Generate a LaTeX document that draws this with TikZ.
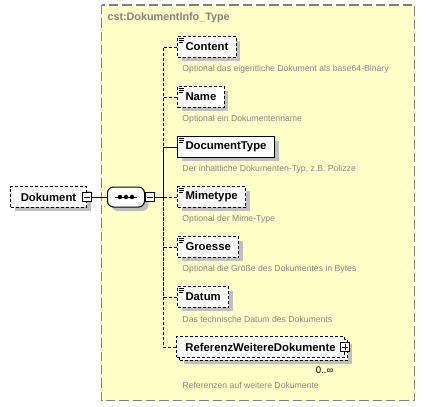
\documentclass[tikz,border=0pt]{standalone}
\usepackage{fontspec}
\setmainfont{Liberation Sans}
\usetikzlibrary{shadows}
\definecolor{typefill}{RGB}{255,255,200}
\definecolor{typeline}{RGB}{128,128,128}
\definecolor{desctext}{RGB}{135,135,135}
\begin{document}
\begin{tikzpicture}[
  x=0.75pt, y=-0.75pt, line width=0.75pt,
  elem/.style={draw, fill=white, anchor=west, minimum height=15.5pt, inner xsep=6pt, inner ysep=0pt, font=\bfseries\fontsize{8.5}{10}\selectfont},
  opt/.style={dash pattern=on 2.25pt off 1.5pt},
  shade/.style={drop shadow={shadow xshift=3pt, shadow yshift=-3pt, fill=black!25, opacity=1}},
  desc/.style={anchor=west, inner sep=0pt, text=desctext, font=\fontsize{6.5}{8}\selectfont},
  pmbox/.style={draw, solid, fill=white, minimum size=7pt, inner sep=0pt},
  minus/.style={path picture={\draw ([xshift=-2.25pt]path picture bounding box.center) -- ([xshift=2.25pt]path picture bounding box.center);}},
  plus/.style={path picture={\draw ([xshift=-2.25pt]path picture bounding box.center) -- ([xshift=2.25pt]path picture bounding box.center)
    ([yshift=-2.25pt]path picture bounding box.center) -- ([yshift=2.25pt]path picture bounding box.center);}}
]
\useasboundingbox (0,0) rectangle (426,407);
% complex type
\draw[typeline, fill=typefill, line width=1.2pt, dash pattern=on 7pt off 3pt] (101.5,5) rectangle (414.5,400.5);
\node[anchor=west, inner sep=0pt, text=typeline, font=\bfseries\fontsize{8.1}{10}\selectfont] (typename) at (107,18) {cst:DokumentInfo\_Type};

% root element and sequence
\node[elem, opt, shade, minimum width=57pt] (dokument) at (10,197) {Dokument};
\node[pmbox, minus] (dokminus) at (dokument.east) {};
\node[draw, fill=white, shade, rounded corners=4.5pt, anchor=west, minimum width=27.75pt, minimum height=15pt, inner sep=0pt] (seq) at (107,197) {};
\draw ([shift={(-11,0)}]seq.center) -- ([shift={(11,0)}]seq.center);
\foreach \d in {-6,0,6}
  \fill ([shift={(\d,0)}]seq.center) circle (1.7pt);
\node[pmbox, minus, anchor=west] (seqminus) at (seq.east) {};
\draw (dokminus.east) -- (seq.west);
\coordinate (trunk) at (163,197);
\draw (seqminus.east) -- (trunk);

% child elements
\node[elem, opt, shade] (content) at (177,47) {Content};
\node[elem, opt, shade] (name) at (177,97) {Name};
\node[elem, shade] (doctype) at (177,147) {DocumentType};
\node[elem, opt, shade] (mime) at (177,197) {Mimetype};
\node[elem, opt, shade] (groesse) at (177,247) {Groesse};
\node[elem, opt, shade] (datum) at (177,297) {Datum};
\node[elem, opt, shade, minimum width=126pt] (refback) at (179,350) {};
\node[elem, opt, minimum width=126pt] (referenz) at (176,347) {ReferenzWeitereDokumente};
\node[pmbox, plus] (refplus) at (referenz.east) {};
\node[anchor=east, inner sep=0pt, font=\fontsize{7.2}{8}\selectfont] (refocc) at (334,370) {0..∞};

\foreach \n in {content,name,doctype,mime,groesse,datum}
  \draw[line width=0.6pt] ([shift={(2,2)}]\n.north west) -- +(5,0)
    ([shift={(2,4)}]\n.north west) -- +(5,0)
    ([shift={(2,6)}]\n.north west) -- +(4,0);

% connectors
\draw[opt] (content.west) -| (trunk);
\draw[opt] (name.west) -| (trunk);
\draw (doctype.west) -| (trunk);
\draw[opt] (mime.west) -- (trunk);
\draw[opt] (groesse.west) -| (trunk);
\draw[opt] (datum.west) -| (trunk);
\draw[opt] (referenz.west) -| (trunk);

% documentation
\node[desc] (contentdoc) at (182,69) {Optional das eigentliche Dokument als base64-Binary};
\node[desc] (namedoc) at (182,119) {Optional ein Dokumentenname};
\node[desc] (doctypedoc) at (182,169) {Der inhaltliche Dokumenten-Typ, z.B. Polizze};
\node[desc] (mimedoc) at (182,219) {Optional der Mime-Type};
\node[desc] (groessedoc) at (182,269) {Optional die Größe des Dokumentes in Bytes};
\node[desc] (datumdoc) at (182,319) {Das technische Datum des Dokuments};
\node[desc] (referenzdoc) at (182,385) {Referenzen auf weitere Dokumente};
\end{tikzpicture}
\end{document}
